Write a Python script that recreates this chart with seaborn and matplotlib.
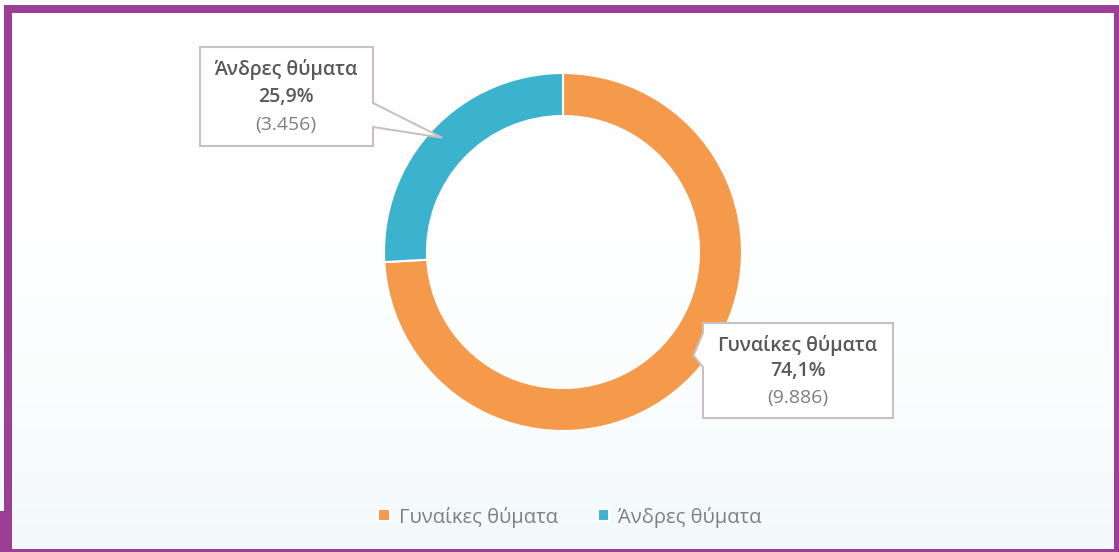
import numpy as np
import matplotlib.pyplot as plt
import matplotlib.patches as mpatches
import seaborn as sns

# data
categories = ["Γυναίκες θύματα", "Άνδρες θύματα"]
percents = [74.1, 25.9]
counts = ["9.886", "3.456"]
colors = ["#f59a4b", "#3bb3cf"]

sns.set_theme(style="white")
plt.rcParams['font.family'] = ['Open Sans', 'DejaVu Sans']

W, H = 1119, 552
fig = plt.figure(figsize=(W / 100, H / 100), dpi=100)
ax = fig.add_axes([0, 0, 1, 1])

# soft background, white fading to a pale blue at the bottom
grad = np.linspace(0, 1, 256).reshape(-1, 1) ** 3
bg = np.ones((256, 1, 3))
bg[:, 0, :] = np.array([1, 1, 1]) * (1 - grad) + np.array([0.95, 0.975, 0.985]) * grad
ax.imshow(bg, extent=(0, W, 0, H), aspect='auto', origin='upper', zorder=0)

cx, cy, R = 563, H - 252, 179
wedges, _ = ax.pie(percents, colors=colors, startangle=90, counterclock=False,
                   radius=R, center=(cx, cy), frame=True,
                   wedgeprops=dict(width=43, edgecolor='white', linewidth=1.5))
for w in wedges:
    w.set_zorder(2)

ax.set_xlim(0, W)
ax.set_ylim(0, H)
ax.set_aspect('auto')
ax.axis('off')

edge = "#c9c1bf"
dark = "#595959"
light = "#7f7f7f"


def callout(box, base, wedge, side, shift=0):
    # box = (x0, y0, x1, y1) in image pixels (y down), base = y range of the pointer
    x0, y0, x1, y1 = box
    ang = np.deg2rad((wedge.theta1 + wedge.theta2) / 2 + shift)
    tx = cx + 0.93 * R * np.cos(ang)
    ty = cy + 0.93 * R * np.sin(ang)
    if side == 'right':
        pts = [(x0, y0), (x1, y0), (x1, base[0]), (tx, H - ty), (x1, base[1]), (x1, y1), (x0, y1)]
    else:
        pts = [(x0, y0), (x1, y0), (x1, y1), (x0, y1), (x0, base[1]), (tx, H - ty), (x0, base[0])]
    pts = [(p[0], H - p[1]) for p in pts]
    ax.add_patch(mpatches.Polygon(pts, closed=True, facecolor='white', edgecolor=edge,
                                  linewidth=1.5, zorder=3))


callout((200, 47, 373, 146), (103, 127), wedges[1], 'right')
callout((703, 323, 893, 418), (333, 367), wedges[0], 'left', shift=5)

label_pos = [(798, [345, 371, 398]), (286, [70, 97, 125])]
for i, (x, ys) in enumerate(label_pos):
    ax.text(x, H - ys[0], categories[i], ha='center', va='center', fontsize=14,
            fontweight='semibold', color=dark, zorder=4)
    ax.text(x, H - ys[1], f"{percents[i]:.1f}%".replace('.', ','), ha='center', va='center',
            fontsize=14, fontweight='semibold', color=dark, zorder=4)
    ax.text(x, H - ys[2], f"({counts[i]})", ha='center', va='center', fontsize=14,
            color=light, zorder=4)

leg = ax.legend(wedges, categories, loc='center', bbox_to_anchor=(570 / W, 1 - 517 / H),
                ncol=2, frameon=False, fontsize=14.5, handlelength=0.55, handleheight=0.55,
                handletextpad=0.45, columnspacing=2.0)
for t in leg.get_texts():
    t.set_color(light)

# purple frame
purple = "#9b3e96"
for (x, y, w, h) in [(4, 5, 8, 547), (4, 5, 1115, 8), (1114, 5, 5, 547),
                     (4, 549, 1115, 3), (0, 511, 4, 41)]:
    ax.add_patch(mpatches.Rectangle((x, H - y - h), w, h, facecolor=purple,
                                    edgecolor='none', zorder=5))

fig.savefig("out.png", dpi=100)
